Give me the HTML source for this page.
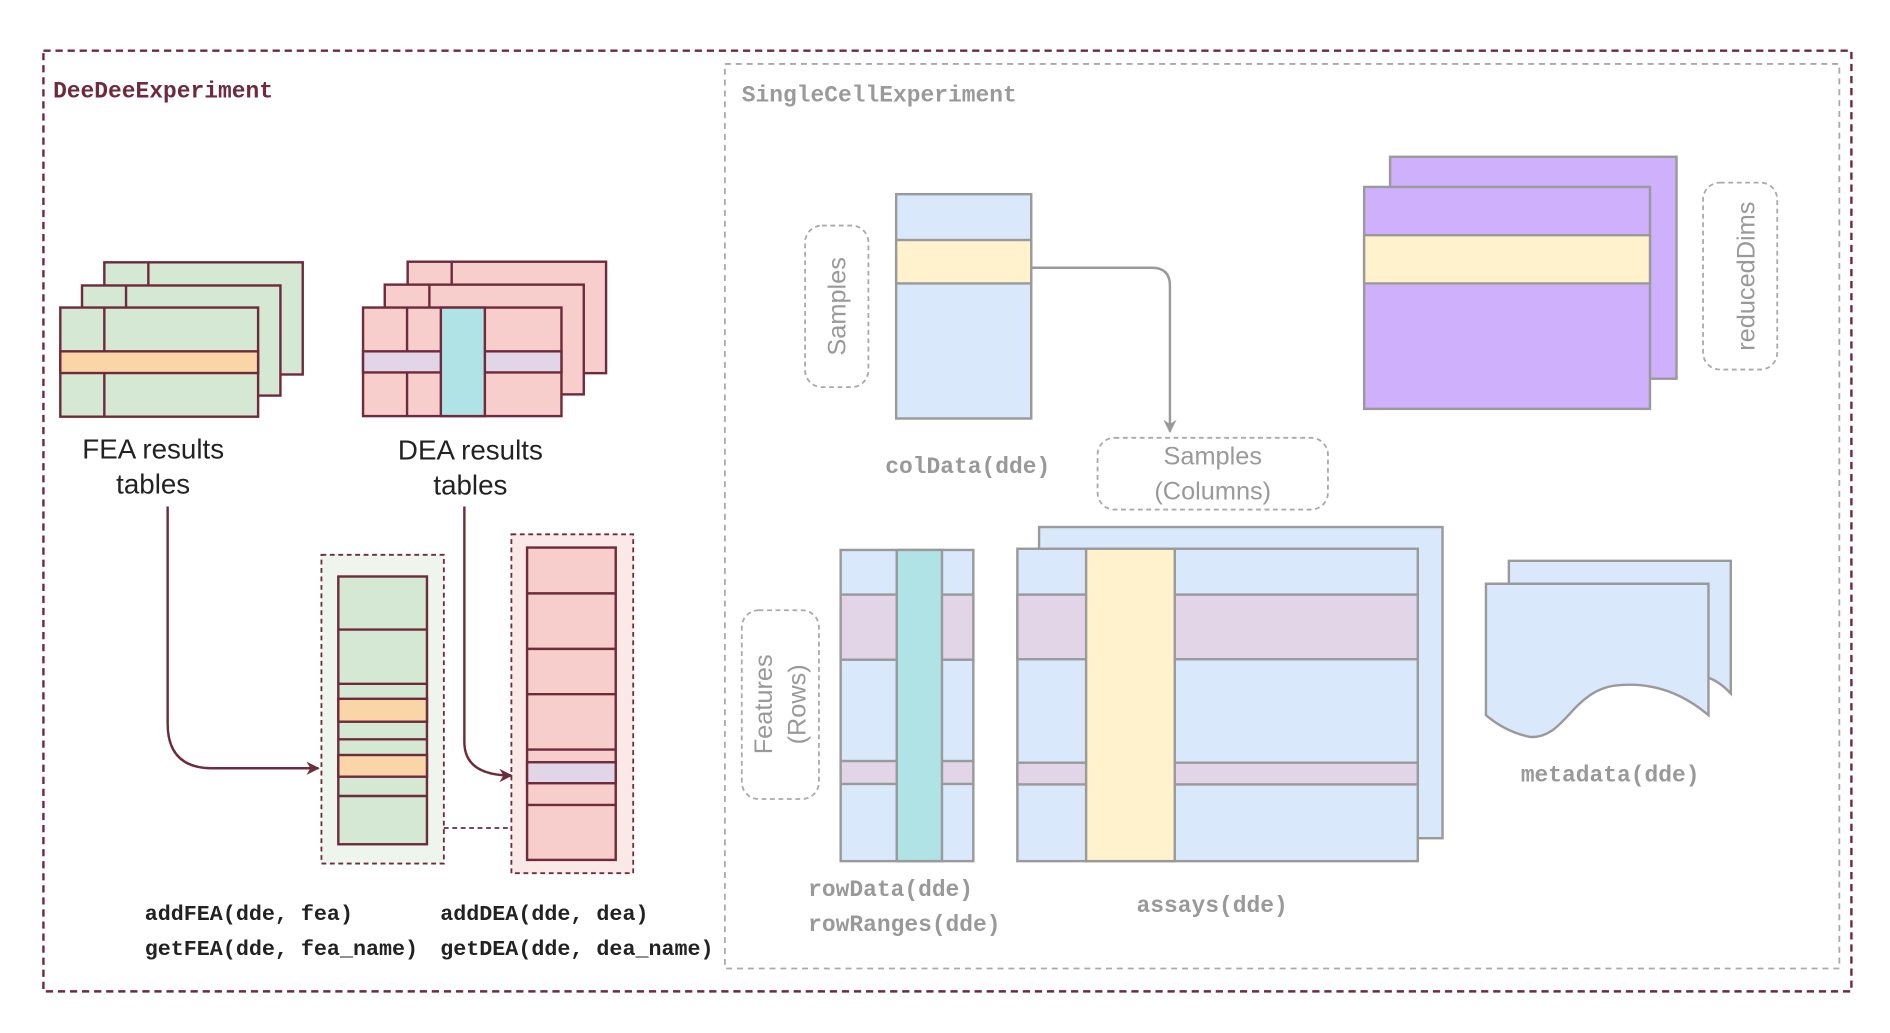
<!DOCTYPE html>
<html><head><meta charset="utf-8"><style>
html,body{margin:0;padding:0;background:#fff;}
svg{display:block;}
.m{font-family:"Liberation Mono",monospace;font-weight:bold;}
.s{font-family:"Liberation Sans",sans-serif;}
</style></head><body>
<svg width="1890" height="1033" viewBox="0 0 1567 856.5" preserveAspectRatio="none" xmlns="http://www.w3.org/2000/svg">
<defs>
<marker id="am" viewBox="0 0 10 10" refX="9" refY="5" markerWidth="11" markerHeight="11" orient="auto" markerUnits="userSpaceOnUse"><path d="M0,0 L10,5 L0,10 L3,5 z" fill="#6d2b3c"/></marker>
<marker id="ag" viewBox="0 0 10 10" refX="9" refY="5" markerWidth="11" markerHeight="11" orient="auto" markerUnits="userSpaceOnUse"><path d="M0,0 L10,5 L0,10 L3,5 z" fill="#999"/></marker>
</defs>
<rect x="36" y="42" width="1499" height="780" fill="none" stroke="#6d2b3c" stroke-width="2" stroke-dasharray="6,4"/>
<text x="44" y="81" class="m" font-size="19" fill="#6d2b3c">DeeDeeExperiment</text>
<rect x="601" y="53" width="924" height="750" fill="none" stroke="#aaa" stroke-width="1.5" stroke-dasharray="5,4"/>
<text x="615" y="84" class="m" font-size="19" fill="#9a9a9a">SingleCellExperiment</text>

<g stroke="#6d2b3c" stroke-width="2">
<rect x="86.5" y="217.5" width="164.5" height="93" fill="#d5e8d4"/><line x1="123" y1="217.5" x2="123" y2="236.7"/>
<rect x="68" y="236.7" width="164.5" height="91.3" fill="#d5e8d4"/><line x1="104.5" y1="236.7" x2="104.5" y2="255"/>
<rect x="50" y="255" width="164" height="90.5" fill="#d5e8d4"/>
<rect x="50" y="291.3" width="164" height="18" fill="#f9d5a7"/>
<line x1="86.5" y1="255" x2="86.5" y2="291.3"/><line x1="86.5" y1="309.3" x2="86.5" y2="345.5"/>
<rect x="338" y="217" width="164.5" height="92.4" fill="#f8cecc"/><line x1="374.5" y1="217" x2="374.5" y2="236"/>
<rect x="319" y="236" width="165" height="91" fill="#f8cecc"/><line x1="356" y1="236" x2="356" y2="255"/>
<rect x="301" y="255" width="164.5" height="90" fill="#f8cecc"/>
<rect x="301" y="291.3" width="164.5" height="17.5" fill="#e1d5e7"/>
<line x1="337.5" y1="255" x2="337.5" y2="291.3"/><line x1="337.5" y1="308.8" x2="337.5" y2="345"/>
<rect x="365.5" y="255" width="36.5" height="90" fill="#b0e3e6"/>
</g>
<g class="s" font-size="23" fill="#222" text-anchor="middle">
<text x="127" y="380">FEA results</text><text x="127" y="409">tables</text>
<text x="390" y="381">DEA results</text><text x="390" y="410">tables</text>
</g>
<rect x="266.5" y="460" width="101.5" height="256" fill="#eef5ec" stroke="#6d2b3c" stroke-width="1.5" stroke-dasharray="4,3"/>
<rect x="424" y="443" width="101" height="281" fill="#fbe9e8" stroke="#6d2b3c" stroke-width="1.5" stroke-dasharray="4,3"/>
<line x1="368" y1="686.5" x2="424" y2="686.5" stroke="#6d2b3c" stroke-width="1.5" stroke-dasharray="4,3"/>
<g stroke="#6d2b3c" stroke-width="2">
<rect x="280.5" y="478" width="73.5" height="222" fill="#d5e8d4"/>
<rect x="280.5" y="579.4" width="73.5" height="19" fill="#f9d5a7"/>
<rect x="280.5" y="626" width="73.5" height="18" fill="#f9d5a7"/>
<line x1="280.5" y1="522" x2="354" y2="522"/><line x1="280.5" y1="567" x2="354" y2="567"/><line x1="280.5" y1="613" x2="354" y2="613"/><line x1="280.5" y1="660" x2="354" y2="660"/>
<rect x="437" y="454" width="73.5" height="259" fill="#f8cecc"/>
<rect x="437" y="632" width="73.5" height="17.4" fill="#e1d5e7"/>
<line x1="437" y1="492" x2="510.5" y2="492"/><line x1="437" y1="538" x2="510.5" y2="538"/><line x1="437" y1="575.6" x2="510.5" y2="575.6"/><line x1="437" y1="621.5" x2="510.5" y2="621.5"/><line x1="437" y1="667.4" x2="510.5" y2="667.4"/>
</g>
<path d="M139,420 V600 Q139,637 176,637 H264" fill="none" stroke="#6d2b3c" stroke-width="2" marker-end="url(#am)"/>
<path d="M385,420 V615 Q385,643 424,643" fill="none" stroke="#6d2b3c" stroke-width="2" marker-end="url(#am)"/>
<g class="m" font-size="18" fill="#222">
<text x="120" y="763">addFEA(dde, fea)</text><text x="120" y="792">getFEA(dde, fea_name)</text>
<text x="365" y="763">addDEA(dde, dea)</text><text x="365" y="792">getDEA(dde, dea_name)</text>
</g>

<g fill="none" stroke="#aaa" stroke-width="1.5" stroke-dasharray="4,3">
<rect x="667.5" y="187" width="52.5" height="134" rx="14"/>
<rect x="910" y="363" width="191" height="59.5" rx="14"/>
<rect x="1412" y="151.4" width="61.5" height="155" rx="14"/>
<rect x="615" y="506" width="64" height="156.5" rx="14"/>
</g>
<g class="s" fill="#999" font-size="21" text-anchor="middle">
<text transform="translate(701,254) rotate(-90)">Samples</text>
<text x="1005.5" y="385">Samples</text><text x="1005.5" y="414">(Columns)</text>
<text transform="translate(1454.5,229) rotate(-90)">reducedDims</text>
<text transform="translate(640,584) rotate(-90)">Features</text>
<text transform="translate(668,584) rotate(-90)">(Rows)</text>
</g>
<g stroke="#9a9a9a" stroke-width="2">
<rect x="743" y="161" width="112" height="186" fill="#dae8fc"/>
<rect x="743" y="199" width="112" height="36" fill="#fff2cc"/>
<rect x="697" y="456" width="110" height="258" fill="#dae8fc"/>
<rect x="697" y="493" width="110" height="54" fill="#e1d5e7"/>
<rect x="697" y="631" width="110" height="19" fill="#e1d5e7"/>
<rect x="743.5" y="456" width="37.5" height="258" fill="#b0e3e6"/>
<g transform="translate(3.5,0)">
<rect x="1149" y="130" width="237.5" height="184" fill="#cfb0fd"/>
<rect x="1127.5" y="155" width="237" height="184" fill="#cfb0fd"/>
<rect x="1127.5" y="195" width="237" height="40" fill="#fff2cc"/>
<rect x="858" y="437" width="334.5" height="258" fill="#dae8fc"/>
<rect x="840" y="455" width="332" height="259" fill="#dae8fc"/>
<rect x="840" y="493" width="332" height="53.6" fill="#e1d5e7"/>
<rect x="840" y="632.4" width="332" height="18" fill="#e1d5e7"/>
<rect x="897" y="455" width="73.5" height="259" fill="#fff2cc"/>
<path d="M1247.5,484 V465 H1431.5 V575 Q1422,565 1413,562" fill="#dae8fc"/>
<path d="M1228.5,484 H1413 V593 Q1380,565 1340,568 C1300,570 1295,613 1265,611 Q1245,607 1228.5,593 Z" fill="#dae8fc"/>
</g>
</g>
<path d="M855,222 H955 Q970,222 970,237 V358" fill="none" stroke="#999" stroke-width="2" marker-end="url(#ag)"/>
<g class="m" font-size="19" fill="#999">
<text x="734" y="392">colData(dde)</text>
<text x="670" y="743">rowData(dde)</text><text x="670" y="772">rowRanges(dde)</text>
<text x="1005" y="756" text-anchor="middle">assays(dde)</text>
<text x="1335" y="648" text-anchor="middle">metadata(dde)</text>
</g>
</svg>
</body></html>
